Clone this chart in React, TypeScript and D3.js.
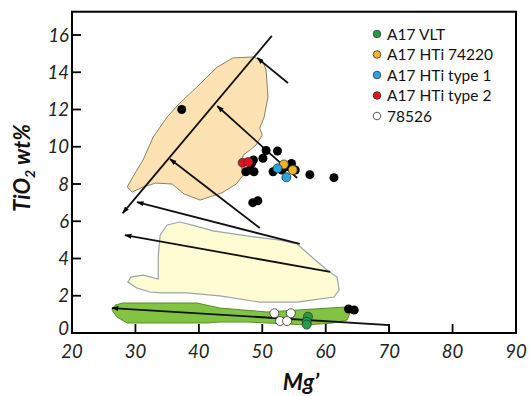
import React from 'react';
import * as d3 from 'd3';

// Mg' vs TiO2 wt% — field outlines and trend arrows
const xTicks = [30, 40, 50, 60, 70, 80];
const xLabels = [20, 30, 40, 50, 60, 70, 80, 90];
const yTicks = [2, 4, 6, 8, 10, 12, 14, 16];
const yLabels = [0, 2, 4, 6, 8, 10, 12, 14, 16];

const hiTiField: [number, number][] = [
  [48.5, 14.82], [50.0, 14.66], [50.6, 14.12], [50.9, 12.67], [50.3, 11.6], [49.6, 11.0],
  [50.0, 10.63], [49.0, 10.09], [48.1, 9.83], [47.0, 9.56], [46.6, 9.02], [47.0, 8.48],
  [45.9, 8.0], [43.6, 7.52], [40.2, 7.14], [37.7, 7.46], [35.8, 8.0], [33.2, 8.05],
  [31.2, 7.84], [29.5, 7.57], [28.7, 7.84], [29.6, 8.38], [31.2, 9.29], [32.8, 10.52],
  [35.0, 11.6], [37.0, 12.35], [39.7, 13.21], [42.9, 14.28], [45.4, 14.77],
];
const midTiField: [number, number][] = [
  [35.0, 5.8], [37.0, 5.96], [39.4, 5.75], [42.2, 5.48], [47.6, 5.21], [52.8, 4.99],
  [55.5, 4.78], [58.0, 4.03], [60.2, 3.38], [61.8, 3.0], [62.1, 2.31], [61.3, 1.93],
  [55.5, 1.66], [49.6, 1.66], [43.3, 1.99], [38.1, 2.15], [34.2, 2.15], [32.3, 2.2],
  [30.2, 2.42], [28.8, 2.74], [29.3, 3.0], [31.2, 3.11], [33.6, 2.9], [33.6, 4.13], [33.9, 5.26],
];
const vltField: [number, number][] = [
  [26.8, 1.5], [28.0, 1.61], [39.7, 1.61], [43.3, 1.34], [50.7, 1.13], [63.4, 1.4],
  [63.8, 1.07], [63.4, 0.7], [61.1, 0.54], [57.0, 0.43], [47.6, 0.59], [43.3, 0.59],
  [41.3, 0.54], [38.6, 0.54], [28.7, 0.54], [27.1, 0.86], [26.3, 1.23],
];

// trend lines, arrow at the last point
const trends: [number, number][][] = [
  [[51.5, 15.95], [28.0, 6.44]],
  [[54.05, 13.42], [49.2, 14.77]],
  [[55.5, 8.32], [42.9, 12.19]],
  [[49.6, 5.64], [35.45, 9.34]],
  [[55.9, 4.78], [30.25, 7.03]],
  [[60.7, 3.28], [28.35, 5.26]],
  [[70, 0], [70, 0.43], [26.3, 1.34]],
];

const blackPts: [number, number][] = [
  [37.3, 12.0], [50.6, 9.8], [52.4, 9.77], [50.1, 9.38], [48.6, 9.29], [48.3, 9.1],
  [47.4, 8.66], [48.1, 8.75], [48.7, 8.66], [51.7, 8.66], [53.1, 8.75], [53.8, 8.93],
  [54.6, 9.1], [55.2, 8.75], [57.5, 8.5], [61.3, 8.34], [48.5, 7.0], [49.3, 7.1],
  [63.6, 1.29], [64.5, 1.23],
];
const vltPts: [number, number][] = [[57.2, 0.88], [57.0, 0.6], [57.0, 0.45]];
const hti74220Pts: [number, number][] = [[53.4, 9.05], [54.8, 8.75]];
const htiType1Pts: [number, number][] = [[52.4, 8.84], [53.8, 8.36]];
const htiType2Pts: [number, number][] = [[46.9, 9.14], [47.8, 9.18]];
const s78526Pts: [number, number][] = [[51.9, 1.06], [54.5, 1.06], [52.8, 0.64], [53.9, 0.64]];

const legendNames = ['A17 VLT', 'A17 HTi 74220', 'A17 HTi type 1', 'A17 HTi type 2', '78526'];
const legendColors = ['#1f9e4a', '#f2b42a', '#2aa6df', '#e3101d', '#ffffff'];

const W = 529, H = 396;
const font = 'Lato, "Open Sans", sans-serif';

export default function App() {
  const x = d3.scaleLinear().domain([20, 90]).range([72, 516]);
  const y = d3.scaleLinear().domain([0, 16]).range([333, 35]);
  const line = d3.line<[number, number]>().x(d => x(d[0])).y(d => y(d[1]));
  const area = (pts: [number, number][]) => line(pts) + 'Z';
  const top = y(17.25);

  const dots = (pts: [number, number][], fill: string, key: string) =>
    pts.map((p, i) => (
      <circle key={key + i} cx={x(p[0])} cy={y(p[1])} r={4.5} fill={fill}
        stroke={fill === '#000' ? 'none' : '#333'} strokeWidth={0.8} />
    ));

  return (
    <svg width={W} height={H} style={{ position: 'absolute', left: 0, top: 0 }}>
      <defs>
        <marker id="arr" viewBox="0 0 10 10" refX="9" refY="5" markerWidth="4" markerHeight="4" orient="auto">
          <path d="M0,1.5 L10,5 L0,8.5 Z" fill="#000" />
        </marker>
      </defs>
      <rect width={W} height={H} fill="#fff" />

      <path d={area(hiTiField)} fill="#fde3b3" stroke="#8f8060" strokeWidth={1} />
      <path d={area(midTiField)} fill="#fefcd2" stroke="#9aa4ad" strokeWidth={1.2} />
      <path d={area(vltField)} fill="#82c341" stroke="#5b8c2c" strokeWidth={1} />

      {trends.map((t, i) => (
        <path key={'t' + i} d={line(t) || ''} fill="none" stroke="#111" strokeWidth={1.8} markerEnd="url(#arr)" />
      ))}

      {dots(blackPts, '#000', 'b')}
      {dots(vltPts, legendColors[0], 'v')}
      {dots(hti74220Pts, legendColors[1], 'y')}
      {dots(htiType1Pts, legendColors[2], 'c')}
      {dots(htiType2Pts, legendColors[3], 'r')}
      {dots(s78526Pts, legendColors[4], 'w')}

      {/* frame */}
      <rect x={x(20)} y={top} width={x(90) - x(20)} height={y(0) - top} fill="none" stroke="#000" strokeWidth={2} />
      {xTicks.map(t => (
        <line key={'xt' + t} x1={x(t)} x2={x(t)} y1={y(0)} y2={y(0) - 9} stroke="#000" strokeWidth={1.8} />
      ))}
      {yTicks.map(t => (
        <line key={'yt' + t} x1={x(20)} x2={x(20) + 9} y1={y(t)} y2={y(t)} stroke="#000" strokeWidth={1.8} />
      ))}
      {xLabels.map(t => (
        <text key={'xl' + t} x={x(t)} y={358} textAnchor="middle" fontFamily={font} fontStyle="italic"
          fontSize={18.5} fill="#222">{t}</text>
      ))}
      {yLabels.map(t => (
        <text key={'yl' + t} x={69} y={y(t) + (t === 0 ? 2 : 6.5)} textAnchor="end" fontFamily={font}
          fontStyle="italic" fontSize={18.5} fill="#222">{t}</text>
      ))}
      <text transform={`translate(30,168) rotate(-90)`} textAnchor="middle" fontFamily={font}
        fontStyle="italic" fontWeight="bold" fontSize={22} fill="#111">
        TiO<tspan fontSize={14} dy={5}>2</tspan><tspan dy={-5}> wt%</tspan>
      </text>
      <text x={301} y={390} textAnchor="middle" fontFamily={font} fontStyle="italic" fontWeight="bold"
        fontSize={23} fill="#111">Mg’</text>

      {legendNames.map((n, i) => (
        <g key={'lg' + i} transform={`translate(377,${34 + i * 20.5})`}>
          <circle r={3.8} fill={legendColors[i]} stroke="#333" strokeWidth={0.8} />
          <text x={10} y={5.5} fontFamily={font} fontSize={15.5} fill="#111">{n}</text>
        </g>
      ))}
    </svg>
  );
}
